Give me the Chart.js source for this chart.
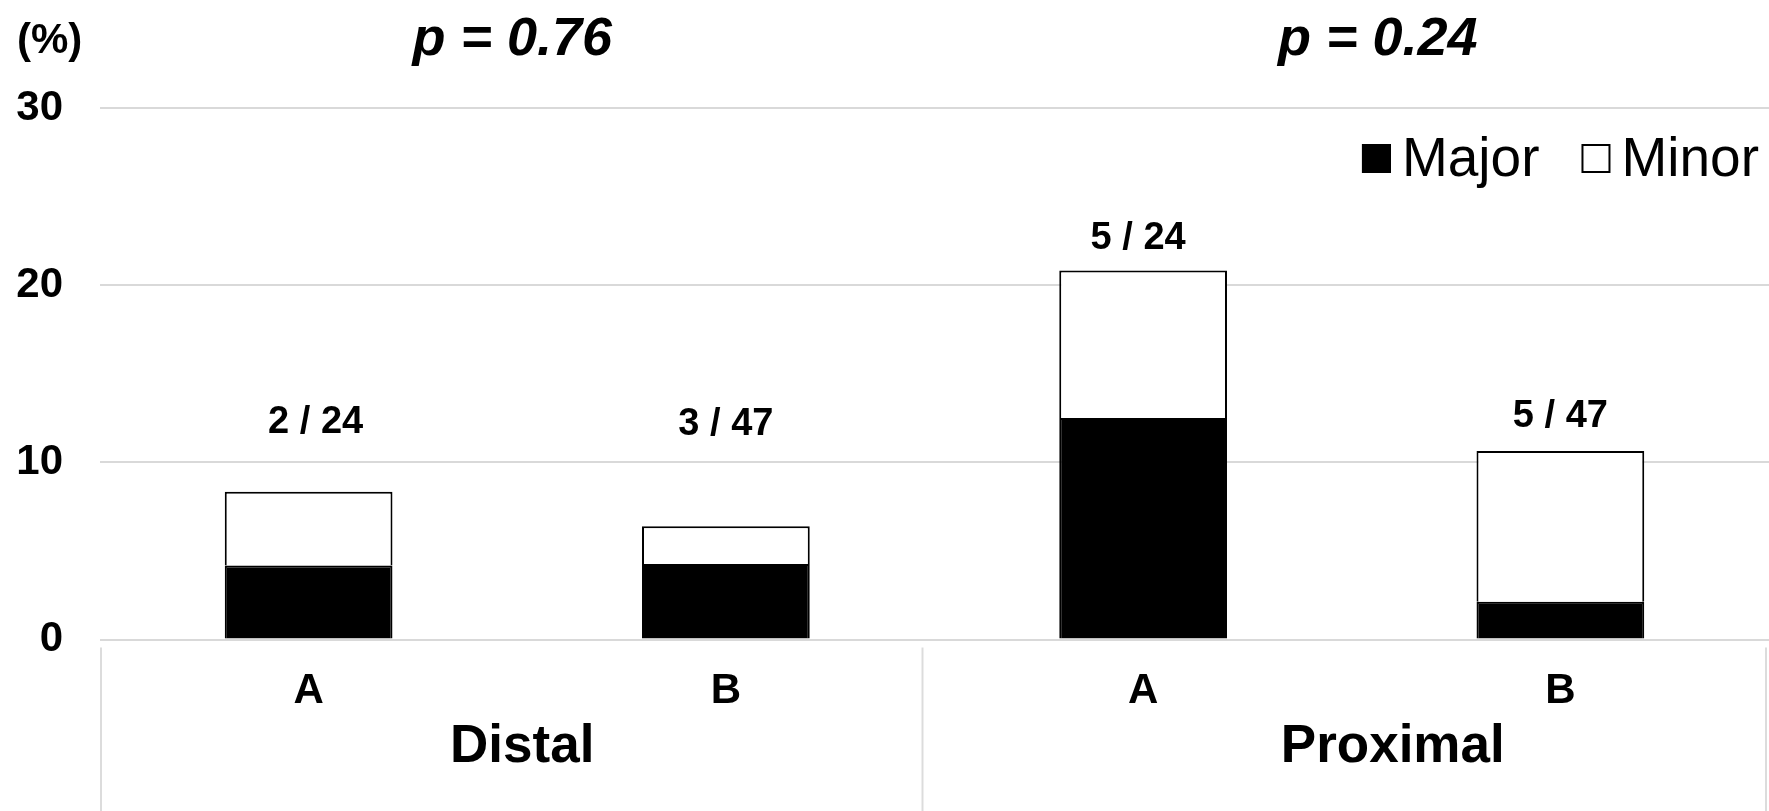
<!DOCTYPE html>
<html>
<head>
<meta charset="utf-8">
<title>Major and minor events by site</title>
<script src="https://cdn.jsdelivr.net/npm/chart.js@4.4.1/dist/chart.umd.min.js"></script>
<style>
  html, body { margin: 0; padding: 0; background: #ffffff; }
  #wrap { position: relative; width: 1769px; height: 811px; }
</style>
</head>
<body>
<div id="wrap"><canvas id="chart"></canvas></div>
<script>
// Groups and the sub-categories inside each group
const groups = ['Distal', 'Proximal'];
const categories = ['A', 'B', 'A', 'B'];
const groupOf = [0, 0, 1, 1];

// Event rates (%) per bar
const majorPct = [4.17, 4.26, 12.50, 2.13];
const minorPct = [4.17, 2.13, 8.33, 8.51];

// Events / patients shown above each bar
const countLabels = ['2 / 24', '3 / 47', '5 / 24', '5 / 47'];

// Comparison p-values per group
const pValues = ['0.76', '0.24'];

// Y axis range
const yMin = 0, yMax = 30, yStep = 10;

const FONT = '"Liberation Sans", Arial, sans-serif';

// Draws the event counts above the stacked bars
const countLabelPlugin = {
  id: 'countLabels',
  afterDatasetsDraw(chart, args, opts) {
    const { ctx, scales: { x, y } } = chart;
    ctx.save();
    ctx.font = 'bold 38px ' + FONT;
    ctx.fillStyle = '#000';
    ctx.textAlign = 'center';
    ctx.textBaseline = 'middle';
    countLabels.forEach((txt, i) => {
      const total = majorPct[i] + minorPct[i];
      ctx.fillText(txt, x.getPixelForValue(i) + opts.dx[i], y.getPixelForValue(total) - opts.offsets[i]);
    });
    ctx.restore();
  }
};

// Draws group names, group dividers, p-values, unit label and legend
const decorPlugin = {
  id: 'decor',
  afterDraw(chart, args, opts) {
    const { ctx, chartArea, scales: { x } } = chart;
    ctx.save();

    // group centres and boundaries from the category scale
    const centres = groups.map((g, gi) => {
      const idx = groupOf.map((v, i) => v === gi ? i : -1).filter(i => i >= 0);
      return (x.getPixelForValue(idx[0]) + x.getPixelForValue(idx[idx.length - 1])) / 2;
    });
    const half = (x.getPixelForValue(1) - x.getPixelForValue(0)) / 2;
    const bounds = [chartArea.left + 1, x.getPixelForValue(1) + half + opts.dividerDx, chartArea.right - 3];

    ctx.strokeStyle = '#dcdcdc';
    ctx.lineWidth = 2;
    bounds.forEach(bx => {
      ctx.beginPath();
      ctx.moveTo(bx, chartArea.bottom + 8);
      ctx.lineTo(bx, chart.height);
      ctx.stroke();
    });

    ctx.fillStyle = '#000';
    ctx.textAlign = 'center';
    ctx.textBaseline = 'alphabetic';

    ctx.font = 'bold 53px ' + FONT;
    groups.forEach((g, gi) => {
      ctx.fillText(g, centres[gi] + opts.groupDx[gi], 762);
    });

    ctx.font = 'italic bold 54px ' + FONT;
    pValues.forEach((p, gi) => {
      ctx.fillText('p = ' + p, centres[gi] + opts.pDx[gi], 55);
    });

    // unit label
    ctx.font = 'bold 42px ' + FONT;
    ctx.textAlign = 'left';
    ctx.fillText('(%)', 17, 53);

    // legend, right aligned
    ctx.font = '55px ' + FONT;
    const ds = chart.data.datasets;
    const box = 29, gapBox = 11, gapItem = 42;
    const baseline = 176;
    let right = chartArea.right - 10;
    for (let i = ds.length - 1; i >= 0; i--) {
      const w = ctx.measureText(ds[i].label).width;
      const tx = right - w;
      ctx.fillStyle = '#000';
      ctx.fillText(ds[i].label, tx, baseline);
      const bx = tx - gapBox - box;
      ctx.fillStyle = ds[i].backgroundColor;
      ctx.fillRect(bx, baseline - 32, box, box);
      ctx.strokeStyle = '#000';
      ctx.lineWidth = 2;
      ctx.strokeRect(bx + 1, baseline - 31, box - 2, box - 2);
      right = bx - gapItem;
    }
    ctx.restore();
  }
};

new Chart(document.getElementById('chart'), {
  type: 'bar',
  data: {
    labels: categories,
    datasets: [
      {
        label: 'Major',
        data: majorPct,
        backgroundColor: '#000000',
        borderColor: '#000000',
        borderWidth: 2
      },
      {
        label: 'Minor',
        data: minorPct,
        backgroundColor: '#ffffff',
        borderColor: '#000000',
        borderWidth: 2
      }
    ]
  },
  options: {
    responsive: true,
    maintainAspectRatio: false,
    devicePixelRatio: 1,
    animation: false,
    layout: { padding: { top: 108, right: 0, bottom: 0, left: 0 } },
    datasets: {
      bar: { barPercentage: 0.402, categoryPercentage: 1.0 }
    },
    plugins: {
      legend: { display: false },
      tooltip: { enabled: false },
      countLabels: { offsets: [69, 102, 32, 34], dx: [7, 0, -5, 0] },
      decor: { groupDx: [5, 41], pDx: [-5, 26], dividerDx: -12 }
    },
    scales: {
      x: {
        stacked: true,
        grid: { display: false, drawTicks: false },
        border: { display: false },
        ticks: {
          color: '#000',
          font: { family: FONT, size: 42, weight: 'bold' },
          padding: 27,
          maxRotation: 0,
          autoSkip: false
        },
        afterFit(scale) { scale.height = 171.5; }
      },
      y: {
        stacked: true,
        min: yMin,
        max: yMax,
        grid: { color: '#d9d9d9', lineWidth: 2, drawTicks: false },
        border: { display: false },
        ticks: {
          stepSize: yStep,
          color: '#000',
          font: { family: FONT, size: 42, weight: 'bold' },
          padding: 37
        },
        afterFit(scale) { scale.width = 100; }
      }
    }
  },
  plugins: [countLabelPlugin, decorPlugin]
});
</script>
</body>
</html>
